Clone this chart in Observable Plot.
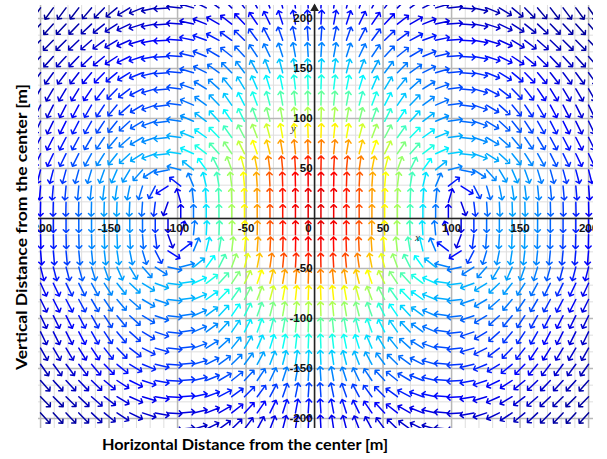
<!DOCTYPE html>
<html><head><meta charset="utf-8">
<script src="https://cdn.jsdelivr.net/npm/d3@7"></script>
<script src="https://cdn.jsdelivr.net/npm/@observablehq/plot@0.6"></script>
<style>
html,body{margin:0;padding:0;background:#fff;}
</style>
</head><body>
<div id="chart"></div>
<script>
// ---- tick labels ----
const xTicks = [-200, -150, -100, -50, 50, 100, 150, 200];
const yTicks = [-200, -150, -100, -50, 50, 100, 150, 200];
// ---- arrow sampling grid ----
const nCols = 44;          // columns across -200..200
const rowStep = 16.2;      // row spacing (rows through y = 0)
const rowsEachSide = 13;
// ---- relative vertical flow along the horizontal axis (distance 0..240, step 20) ----
const alongXStations = [0, 20, 40, 60, 80, 100, 120, 140, 160, 180, 200, 220, 240];
const alongXValues   = [1, 0.97, 0.74, 0.44, 0.22, 0, -0.1, -0.18, -0.16, -0.085, -0.045, -0.024, -0.012];
// ---- relative decay of the flow along the vertical axis (height 0..250, step 25) ----
const alongYStations = [0, 25, 50, 75, 100, 125, 150, 175, 200, 225, 250];
const alongYValues   = [1, 1, 0.93, 0.63, 0.44, 0.31, 0.19, 0.092, 0.045, 0.029, 0.016];
// ---- colour: jet map over (speed / max speed)^0.65 ----
const colourExponent = 0.65;
const jetStops  = [0, 0.125, 0.375, 0.625, 0.875, 1];
const jetColors = ["#000080", "#0000ff", "#00ffff", "#ffff00", "#ff0000", "#800000"];

// smooth axisymmetric (ring-vortex) flow through the read profiles
const xMaxS = alongXStations[alongXStations.length - 1];
const yMaxS = alongYStations[alongYStations.length - 1];
const Pint = d3.interpolateBasis([...alongXValues.slice(1).reverse(), ...alongXValues]);
const Bint = d3.interpolateBasis([...alongYValues.slice(1).reverse(), ...alongYValues]);
const P = r => Pint((r + xMaxS) / (2 * xMaxS));
const B = z => Bint((z + yMaxS) / (2 * yMaxS));
const Q = r => { // Stokes stream-function factor: integral of P(s) s ds from 0 to r
  const n = 200, h = r / n; let s = 0;
  for (let i = 0; i < n; i++) { const q = (i + 0.5) * h; s += P(q) * q; }
  return s * h;
};
const dB = z => (B(z + 0.5) - B(z - 0.5));

const xs = d3.range(nCols).map(i => -200 + i * 400 / (nCols - 1));
const ys = d3.range(-rowsEachSide, rowsEachSide + 1).map(k => k * rowStep);
const field = [];
for (const x of xs) for (const y of ys) {
  const r = Math.abs(x);
  const vr = -(Q(r) / r) * dB(y);
  const u = Math.sign(x) * vr;
  const v = P(r) * B(y);
  field.push({x, y, u, v, m: Math.hypot(u, v), rotate: Math.atan2(u, v) * 180 / Math.PI});
}
const mMax = d3.max(field, d => d.m);
field.forEach(d => d.t = 0.9 * Math.pow(d.m / mMax, colourExponent));

const xMinor = d3.range(-200, 201, 10);
const xMajor = d3.range(-200, 201, 50);
const yMinor = d3.range(-200, 201, 50 / 3);
const yMajor = d3.range(-200, 201, 50);

const tickFont = "'Liberation Sans Narrow', 'Arial Narrow', 'Liberation Sans', sans-serif";
const titleFont = "Lato, 'Open Sans', sans-serif";

const chart = Plot.plot({
  width: 607, height: 459,
  marginLeft: 38, marginRight: 14, marginTop: 5, marginBottom: 31,
  x: {domain: [-201.5, 203.6], axis: null},
  y: {domain: [-210, 213], axis: null},
  color: {type: "linear", domain: jetStops, range: jetColors, interpolate: "rgb"},
  style: {background: "white"},
  marks: [
    Plot.ruleX(xMinor, {stroke: "#dedede", strokeWidth: 1}),
    Plot.ruleY(yMinor, {stroke: "#dedede", strokeWidth: 1}),
    Plot.ruleX(xMajor, {stroke: "#b8b8b8", strokeWidth: 1.5}),
    Plot.ruleY(yMajor, {stroke: "#b8b8b8", strokeWidth: 1.5}),
    Plot.vector(field, {x: "x", y: "y", rotate: "rotate", length: 14, r: 3.5,
      anchor: "start", stroke: "t", strokeWidth: 1.5, clip: true}),
    Plot.ruleX([0], {stroke: "#222", strokeWidth: 1.5}),
    Plot.ruleY([0], {stroke: "#222", strokeWidth: 1.5}),
    Plot.dot([0], {x: d => d, frameAnchor: "top", symbol: "triangle", r: 3.2, fill: "#222", stroke: null, dy: 3}),
    Plot.text(xTicks, {x: d => d, y: 0, text: d => String(d), dy: 10, fontSize: 11.5,
      fontWeight: "bold", fontFamily: tickFont, fill: "#111", clip: true}),
    Plot.text(yTicks, {x: 0, y: d => d, text: d => String(d), dx: -2, textAnchor: "end", fontSize: 11.5,
      fontWeight: "bold", fontFamily: tickFont, fill: "#111"}),
    Plot.text(["0"], {x: 0, y: 0, dx: -6, dy: 10, fontSize: 11.5, fontWeight: "bold", fontFamily: tickFont, fill: "#111"}),
    Plot.text(["x"], {x: 75, y: 0, dy: 19, fontSize: 11, fontStyle: "italic", fontFamily: "'Liberation Serif', serif", fill: "#333"}),
    Plot.text(["y"], {x: 0, y: 90, dx: -21, fontSize: 11, fontStyle: "italic", fontFamily: "'Liberation Serif', serif", fill: "#333"}),
    Plot.text(["Horizontal Distance from the center [m]"], {frameAnchor: "bottom", textAnchor: "middle", dx: -71, dy: 21,
      fontSize: 16, fontWeight: "bold", fontFamily: titleFont, fill: "#000", className: "ttl"}),
    Plot.text(["Vertical Distance from the center [m]"], {frameAnchor: "left", textAnchor: "middle", rotate: -90, dx: -17, dy: 10,
      fontSize: 16, fontWeight: "bold", fontFamily: titleFont, fill: "#000", className: "ttl"})
  ]
});
document.getElementById("chart").appendChild(chart);
chart.querySelectorAll(".ttl text").forEach(t => {
  t.setAttribute("textLength", 286);
  t.setAttribute("lengthAdjust", "spacingAndGlyphs");
});
</script>
</body></html>
